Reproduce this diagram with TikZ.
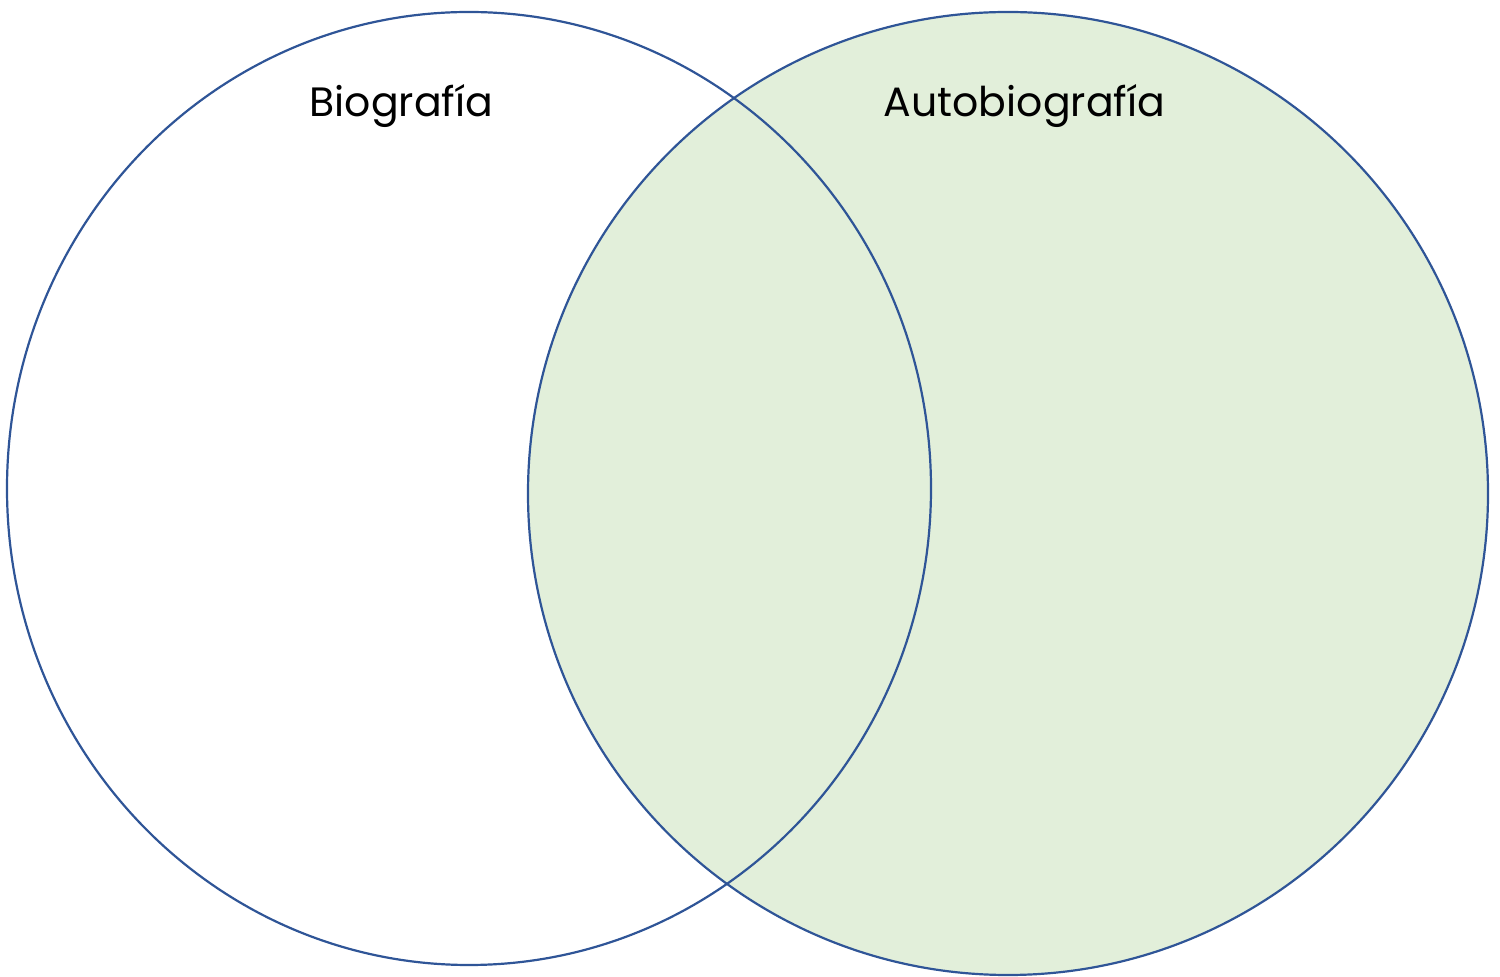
\documentclass[tikz,border=0pt]{standalone}
\usepackage{fontspec}
\setmainfont{Poppins}
\definecolor{vennblue}{HTML}{2F5597}
\definecolor{venngreen}{HTML}{E2EFDA}
\begin{document}
\begin{tikzpicture}[y=0.5pt, x=0.5pt, yscale=-1, inner sep=0pt, outer sep=0pt,
  setlabel/.style={anchor=base, font=\fontsize{20.5}{24}\selectfont}]
\useasboundingbox (0,0) rectangle (1500,977);
\path[fill=venngreen] (1008,493.5) ellipse (240pt and 240.75pt);
\path[draw=vennblue,line width=1.1pt] (1008,493.5) ellipse (240pt and 240.75pt);
\path[draw=vennblue,line width=1.1pt] (469,488.5) ellipse (231pt and 238.25pt);
\path (401.5,117) node[setlabel] (biografia) {Biografía};
\path (1024.5,117) node[setlabel] (autobiografia) {Autobiografía};
\end{tikzpicture}
\end{document}
